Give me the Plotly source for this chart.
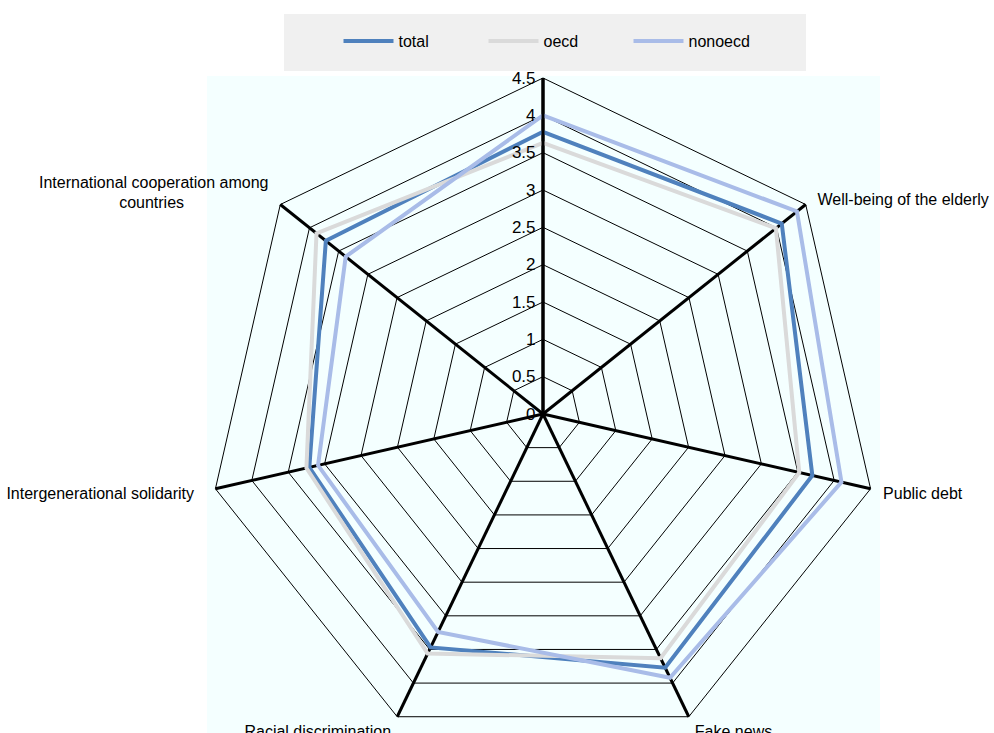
import plotly.graph_objects as go

NB = "\u00a0"
categories = [" ", "Well-being of the elderly", "Public debt", "Fake news",
              "Racial discrimination", "Intergenerational solidarity",
              "International cooperation among<br>countries"]
total = [3.78, 4.09, 3.70, 3.77, 3.47, 3.21, 3.72]
oecd = [3.63, 3.99, 3.52, 3.63, 3.56, 3.25, 3.88]
nonoecd = [4.00, 4.35, 4.10, 3.92, 3.24, 3.09, 3.38]
radial_ticks = [0, 0.5, 1, 1.5, 2, 2.5, 3, 3.5, 4, 4.5]

# padding of the displayed category labels (spacing only)
pads = [("", ""), (2, 0), (2, 0), (1, 0), (0, 1), (0, 4), (0, 2)]
def padded(label, pad):
    if pad == ("", ""):
        return label
    lead, trail = pad
    lines = label.split("<br>")
    out = []
    for i, ln in enumerate(lines):
        extra = 19 if (i > 0 and len(lines) > 1) else 0
        out.append(NB * lead + ln + NB * (trail + extra))
    return "<br>".join(out)
display_labels = [padded(c, p) for c, p in zip(categories, pads)]

W, H = 994, 760
FONT = "Liberation Sans Narrow, Arial Narrow, Liberation Sans, Arial, sans-serif"

fig = go.Figure()
series = [("total", total, "#4F81BD"), ("oecd", oecd, "#DADADA"), ("nonoecd", nonoecd, "#A9BCE8")]
for name, vals, col in series:
    fig.add_trace(go.Scatterpolar(
        r=vals + vals[:1], theta=categories + categories[:1], mode="lines", name=name,
        line=dict(color=col, width=4), hoverinfo="skip"))

cx, cy, R = 543, 414, 336
fig.update_layout(
    width=W, height=H,
    margin=dict(l=0, r=0, t=0, b=0),
    paper_bgcolor="white",
    font=dict(family=FONT, size=16, color="#000000"),
    showlegend=True,
    legend=dict(orientation="h", x=556 / W, xanchor="center", y=1 - 24 / H, yanchor="top",
                bgcolor="rgba(0,0,0,0)", font=dict(family=FONT, size=16),
                entrywidth=80, entrywidthmode="pixels", itemwidth=50),
    polar=dict(
        domain=dict(x=[(cx - R) / W, (cx + R) / W], y=[(H - cy - R) / H, (H - cy + R) / H]),
        gridshape="linear",
        bgcolor="#F4FFFF",
        radialaxis=dict(range=[0, 4.5], tickvals=radial_ticks, angle=90, tickangle=90,
                        showline=True, linecolor="black", linewidth=3,
                        showgrid=True, gridcolor="black", gridwidth=1,
                        ticks="", tickfont=dict(family=FONT, size=17), side="counterclockwise"),
        angularaxis=dict(type="category", categoryorder="array", categoryarray=categories,
                         tickmode="array", tickvals=categories, ticktext=display_labels,
                         rotation=90, direction="clockwise",
                         showline=True, linecolor="black", linewidth=1,
                         showgrid=True, gridcolor="black", gridwidth=2.5,
                         ticks="", tickfont=dict(family=FONT, size=16)),
    ),
    shapes=[
        dict(type="rect", xref="paper", yref="paper", layer="below",
             x0=207 / W, x1=880 / W, y0=0, y1=1 - 76 / H,
             fillcolor="#F4FFFF", line=dict(width=0)),
        dict(type="rect", xref="paper", yref="paper", layer="below",
             x0=284 / W, x1=806 / W, y0=1 - 71 / H, y1=1 - 14 / H,
             fillcolor="#F0F0F0", line=dict(width=0)),
    ],
)

fig.write_html("out.html", config={"displayModeBar": False},
               post_script="document.body.style.margin='0';document.body.style.overflow='hidden';document.documentElement.style.overflow='hidden';")
